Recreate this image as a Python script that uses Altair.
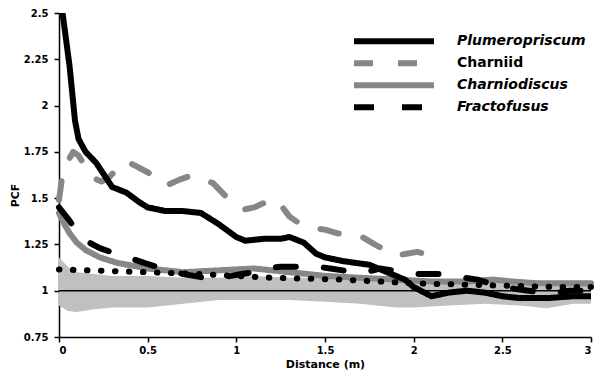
import altair as alt
import pandas as pd

# ---- data ----
plum_x = [0.0, 0.02, 0.06, 0.09, 0.11, 0.15, 0.21, 0.30, 0.38, 0.45, 0.50, 0.60, 0.70, 0.80, 0.90,
          1.00, 1.05, 1.15, 1.25, 1.30, 1.38, 1.45, 1.50, 1.60, 1.75, 1.85, 1.95, 2.00, 2.10, 2.20,
          2.30, 2.40, 2.50, 2.60, 2.75, 2.90, 3.00]
plum_y = [2.60, 2.50, 2.21, 1.92, 1.82, 1.75, 1.69, 1.56, 1.53, 1.48, 1.45, 1.43, 1.43, 1.42, 1.36,
          1.29, 1.27, 1.28, 1.28, 1.29, 1.26, 1.20, 1.18, 1.16, 1.14, 1.10, 1.06, 1.02, 0.97, 0.99,
          1.00, 0.99, 0.97, 0.96, 0.96, 0.97, 0.97]

charniid_x = [0.0, 0.02, 0.05, 0.08, 0.11, 0.15, 0.19, 0.24, 0.28, 0.33, 0.38, 0.44, 0.50, 0.56,
              0.61, 0.68, 0.74, 0.80, 0.87, 0.93, 1.00, 1.05, 1.10, 1.17, 1.23, 1.30, 1.36, 1.43,
              1.50, 1.57, 1.64, 1.71, 1.78, 1.84, 1.90, 1.96, 2.02, 2.06, 2.10]
charniid_y = [1.49, 1.63, 1.70, 1.75, 1.73, 1.67, 1.61, 1.59, 1.61, 1.66, 1.70, 1.67, 1.64, 1.60,
              1.57, 1.60, 1.62, 1.61, 1.58, 1.52, 1.46, 1.44, 1.45, 1.48, 1.49, 1.40, 1.36, 1.34,
              1.33, 1.31, 1.30, 1.29, 1.25, 1.22, 1.19, 1.20, 1.21, 1.20, 1.18]

chdisc_x = [0.0, 0.03, 0.06, 0.10, 0.15, 0.23, 0.33, 0.50, 0.70, 0.90, 1.10, 1.30, 1.50, 1.70,
            1.90, 2.10, 2.30, 2.45, 2.55, 2.70, 2.85, 3.00]
chdisc_y = [1.42, 1.36, 1.31, 1.26, 1.22, 1.18, 1.15, 1.12, 1.10, 1.11, 1.12, 1.10, 1.08, 1.07,
            1.06, 1.05, 1.05, 1.06, 1.05, 1.04, 1.04, 1.04]

fracto_x = [0.0, 0.05, 0.08, 0.12, 0.17, 0.23, 0.29, 0.35, 0.42, 0.48, 0.55, 0.62, 0.70, 0.76,
            0.82, 0.90, 0.97, 1.03, 1.10, 1.17, 1.25, 1.32, 1.38, 1.45, 1.53, 1.60, 1.66, 1.73,
            1.81, 1.88, 1.94, 2.01, 2.08, 2.15, 2.22, 2.29, 2.36, 2.43, 2.50, 2.57, 2.65, 2.72,
            2.80, 2.88, 2.95, 3.00]
fracto_y = [1.45, 1.39, 1.35, 1.30, 1.26, 1.23, 1.21, 1.19, 1.17, 1.15, 1.13, 1.11, 1.09, 1.08,
            1.07, 1.07, 1.08, 1.09, 1.10, 1.12, 1.13, 1.13, 1.13, 1.13, 1.12, 1.11, 1.10, 1.10,
            1.12, 1.11, 1.10, 1.09, 1.09, 1.09, 1.08, 1.07, 1.06, 1.04, 1.02, 1.01, 1.00, 0.99,
            0.99, 1.00, 1.00, 1.00]

dot_x = [0.0, 0.5, 0.8, 1.2, 1.6, 2.0, 2.4, 2.8, 3.0]
dot_y = [1.115, 1.10, 1.09, 1.07, 1.06, 1.04, 1.03, 1.02, 1.02]

env_x = [0.0, 0.05, 0.10, 0.20, 0.30, 0.50, 0.70, 0.90, 1.10, 1.30, 1.50, 1.70, 1.90, 2.00,
         2.20, 2.40, 2.60, 2.75, 2.90, 3.00]
env_hi = [1.18, 1.13, 1.10, 1.09, 1.08, 1.08, 1.07, 1.07, 1.08, 1.07, 1.07, 1.06, 1.06, 1.06,
          1.06, 1.06, 1.06, 1.05, 1.05, 1.05]
env_lo = [0.92, 0.89, 0.885, 0.90, 0.91, 0.91, 0.93, 0.95, 0.95, 0.95, 0.94, 0.93, 0.91, 0.91,
          0.92, 0.93, 0.92, 0.905, 0.93, 0.93]

baseline = [1.0]

series_names = ["Plumeropriscum", "Charniid", "Charniodiscus", "Fractofusus"]
series_colors = ["#000000", "#878787", "#878787", "#000000"]
series_dashes = [[1, 0], [19, 25], [1, 0], [20, 28]]

y_ticks = [0.75, 1.0, 1.25, 1.5, 1.75, 2.0, 2.25, 2.5]
x_ticks = [0, 0.5, 1, 1.5, 2, 2.5, 3]

FONT = "DejaVu Sans"
LABEL_EXPR = "format(datum.value, '.4~g')"


def X(field="x"):
    return alt.X(f"{field}:Q",
                 scale=alt.Scale(domain=[0, 3], nice=False, zero=False),
                 axis=alt.Axis(values=x_ticks, labelExpr=LABEL_EXPR, title="Distance (m)",
                               titleFontSize=11, titlePadding=3, labelPadding=3))


def Y(field="y"):
    return alt.Y(f"{field}:Q",
                 scale=alt.Scale(domain=[0.75, 2.5], nice=False, zero=False),
                 axis=alt.Axis(values=y_ticks, labelExpr=LABEL_EXPR, title="PCF",
                               titleFontSize=11, titlePadding=3, titleY=182, labelPadding=6))


legend = alt.Legend(title=None, orient="none", legendX=294, legendY=17.5,
                    symbolType="M-13.333,0H13.333", symbolSize=36, symbolStrokeWidth=6,
                    symbolOffset=34, clipHeight=21.3,
                    labelFont=FONT, labelFontSize=14, labelFontWeight="bold",
                    labelFontStyle=alt.ExprRef("datum.label == 'Charniid' ? 'normal' : 'italic'"),
                    labelColor="black", labelOffset=56, rowPadding=0, padding=0)

color_enc = alt.Color("series:N", scale=alt.Scale(domain=series_names, range=series_colors),
                      legend=legend)
dash_enc = alt.StrokeDash("series:N", scale=alt.Scale(domain=series_names, range=series_dashes),
                          legend=legend)


def series_layer(name, xs, ys, clip=False):
    df = pd.DataFrame({"x": xs, "y": ys, "series": name})
    return alt.Chart(df).mark_line(strokeWidth=6, strokeCap="round", strokeJoin="round",
                                   clip=clip).encode(
        x=X(), y=Y(), color=color_enc, strokeDash=dash_enc, order="x:Q")


env_df = pd.DataFrame({"x": env_x, "lo": env_lo, "hi": env_hi})
envelope = alt.Chart(env_df).mark_area(color="#c0c0c0", opacity=1).encode(
    x=X(), y=Y("lo"), y2="hi:Q")

rule = alt.Chart(pd.DataFrame({"y": baseline})).mark_rule(color="black", strokeWidth=1.5).encode(
    y=Y())

dot_df = pd.DataFrame({"x": dot_x, "y": dot_y})
dotted = alt.Chart(dot_df).mark_line(color="black", strokeWidth=6, strokeCap="round",
                                     strokeDash=[0.5, 13.5]).encode(x=X(), y=Y(), order="x:Q")

chart = alt.layer(
    envelope,
    rule,
    series_layer("Charniodiscus", chdisc_x, chdisc_y),
    series_layer("Charniid", charniid_x, charniid_y),
    dotted,
    series_layer("Fractofusus", fracto_x, fracto_y),
    series_layer("Plumeropriscum", plum_x, plum_y, clip=True),
).properties(
    width=532, height=324,
    autosize=alt.AutoSizeParams(type="none"),
    padding={"left": 59, "top": 13, "right": 4, "bottom": 42},
    background="white",
).configure_view(stroke=None).configure_axis(
    grid=False, domainColor="black", domainWidth=1.5, tickColor="black", tickWidth=1.5,
    tickSize=5, labelFont=FONT, labelFontSize=10, labelFontWeight="bold", labelColor="black",
    titleFont=FONT, titleFontWeight="bold", titleColor="black",
)

chart.save("out.html", embed_options={"renderer": "svg", "actions": False})
